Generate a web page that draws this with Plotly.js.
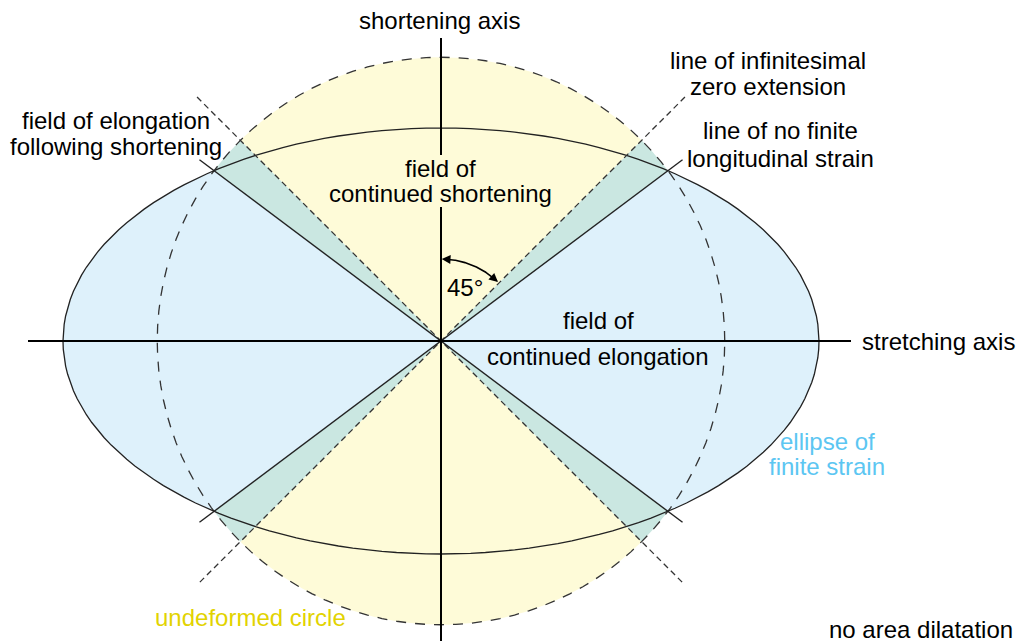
<!DOCTYPE html>
<html>
<head>
<meta charset="utf-8">
<script src="https://cdn.plot.ly/plotly-3.0.1.min.js"></script>
<style>html,body{margin:0;padding:0;background:#fff;}#chart{width:1016px;height:644px;}</style>
</head>
<body>
<div id="chart"></div>
<script>
// ---- data: strain ellipse geometry (pixel-like units) ----
const ellipseSemiAxes = [378, 213];          // [stretching semi-axis, shortening semi-axis]
const zeroExtensionAngles = [45, 135, 225, 315]; // lines of infinitesimal zero extension (deg)
const arcAngleRange = [88, 47];              // 45° marker arc (deg)
const arcRadius = 82;

const a = ellipseSemiAxes[0], b = ellipseSemiAxes[1];
const r = Math.sqrt(a * b);                  // undeformed circle, no area dilatation
const phi = Math.atan(Math.sqrt(b / a)) * 180 / Math.PI; // no finite longitudinal strain
const tEll = Math.acos(Math.sqrt(b / (a + b))) * 180 / Math.PI; // ellipse param at intersection
const rad = d => d * Math.PI / 180;

function circleArc(d0, d1, rr) {
  const xs = [], ys = []; const n = 120;
  for (let i = 0; i <= n; i++) { const d = d0 + (d1 - d0) * i / n; xs.push(rr * Math.cos(rad(d))); ys.push(rr * Math.sin(rad(d))); }
  return [xs, ys];
}
function ellArc(t0, t1) {
  const xs = [], ys = []; const n = 160;
  for (let i = 0; i <= n; i++) { const t = t0 + (t1 - t0) * i / n; xs.push(a * Math.cos(rad(t))); ys.push(b * Math.sin(rad(t))); }
  return [xs, ys];
}
function sector(arc, color) {
  return { x: [0, ...arc[0], 0], y: [0, ...arc[1], 0], mode: 'lines', fill: 'toself', fillcolor: color, line: { width: 0 }, hoverinfo: 'skip' };
}

const YEL = '#fefbd8', BLU = '#def1fb', TEAL = '#cae7e1';
const traces = [];
// yellow: field of continued shortening
traces.push(sector(circleArc(zeroExtensionAngles[0], zeroExtensionAngles[1], r), YEL));
traces.push(sector(circleArc(zeroExtensionAngles[2], zeroExtensionAngles[3], r), YEL));
// teal: field of elongation following shortening
[[phi, 45], [135, 180 - phi], [180 + phi, 225], [315, 360 - phi]].forEach(p => traces.push(sector(circleArc(p[0], p[1], r), TEAL)));
// blue: field of continued elongation
traces.push(sector(ellArc(-tEll, tEll), BLU));
traces.push(sector(ellArc(180 - tEll, 180 + tEll), BLU));

// circle outline (dashed)
const c = circleArc(0, 360, r);
traces.push({ x: c[0], y: c[1], mode: 'lines', line: { color: '#333', width: 1.3, dash: '10px,9px' }, hoverinfo: 'skip' });
// ellipse outline
const e = ellArc(0, 360);
traces.push({ x: e[0], y: e[1], mode: 'lines', line: { color: '#222', width: 1.3 }, hoverinfo: 'skip' });
// zero-extension dashed lines
const L45 = 345;
[[zeroExtensionAngles[0], zeroExtensionAngles[2]], [zeroExtensionAngles[1], zeroExtensionAngles[3]]].forEach(p => traces.push({
  x: [L45 * Math.cos(rad(p[0])), L45 * Math.cos(rad(p[1]))],
  y: [L45 * Math.sin(rad(p[0])), L45 * Math.sin(rad(p[1]))],
  mode: 'lines', line: { color: '#333', width: 1.3, dash: '6px,4px' }, hoverinfo: 'skip' }));
// no finite strain solid lines
const Ls = 302;
[[phi, 180 + phi], [180 - phi, 360 - phi]].forEach(p => traces.push({
  x: [Ls * Math.cos(rad(p[0])), Ls * Math.cos(rad(p[1]))],
  y: [Ls * Math.sin(rad(p[0])), Ls * Math.sin(rad(p[1]))],
  mode: 'lines', line: { color: '#222', width: 1.4 }, hoverinfo: 'skip' }));
// axes (shortening axis interrupted behind its label)
traces.push({ x: [-413, 410], y: [0, 0], mode: 'lines', line: { color: '#000', width: 2 }, hoverinfo: 'skip' });
traces.push({ x: [0, 0, null, 0, 0], y: [303, 186, null, 134, -300], mode: 'lines', line: { color: '#000', width: 2 }, connectgaps: false, hoverinfo: 'skip' });
// 45° arc
const arc = circleArc(arcAngleRange[0], arcAngleRange[1], arcRadius);
traces.push({ x: arc[0], y: arc[1], mode: 'lines', line: { color: '#000', width: 1.6 }, hoverinfo: 'skip' });

const F = 'Liberation Sans, Arial, sans-serif';
const FS = 24;
function lab(text, x, y, opts) {
  return Object.assign({ text: text, x: x, y: y, xref: 'x', yref: 'y', showarrow: false,
    font: { family: F, size: FS, color: '#000' }, xanchor: 'center', yanchor: 'middle' }, opts || {});
}
const annotations = [
  lab('shortening axis', -2, 321),
  lab('line of infinitesimal', 327, 281),
  lab('zero extension', 327, 255),
  lab('line of no finite', 339, 211),
  lab('longitudinal strain', 339, 183),
  lab('field of elongation', -325, 221),
  lab('following shortening', -325, 195),
  lab('field of', -1, 173),
  lab('continued shortening', -1, 148),
  lab('45°', 24, 54),
  lab('field of', 157, 21),
  lab('continued elongation', 157, -15),
  lab('stretching axis', 419, 0, { xanchor: 'left' }),
  lab('ellipse of', 386, -100, { font: { family: F, size: FS, color: '#5cc6f2' } }),
  lab('finite strain', 386, -125, { font: { family: F, size: FS, color: '#5cc6f2' } }),
  lab('undeformed circle', -191, -276, { font: { family: F, size: FS, color: '#e2d300' } }),
  lab('no area dilatation', 480, -288),
];
// arrowheads on 45° arc
function head(dTip, dTail) {
  return { x: arcRadius * Math.cos(rad(dTip)), y: arcRadius * Math.sin(rad(dTip)),
    ax: arcRadius * Math.cos(rad(dTail)), ay: arcRadius * Math.sin(rad(dTail)),
    xref: 'x', yref: 'y', axref: 'x', ayref: 'y', text: '', showarrow: true,
    arrowhead: 2, arrowsize: 1.1, arrowwidth: 1.6, arrowcolor: '#000', standoff: 0, startstandoff: 0 };
}
annotations.push(head(89.5, 84));
annotations.push(head(46, 51.5));

const layout = {
  width: 1016, height: 644, margin: { l: 0, r: 0, t: 0, b: 0 },
  paper_bgcolor: '#fff', plot_bgcolor: '#fff', showlegend: false,
  xaxis: { range: [-441, 575], visible: false, fixedrange: true },
  yaxis: { range: [-303, 341], visible: false, fixedrange: true },
  annotations: annotations
};
Plotly.newPlot('chart', traces, layout, { staticPlot: true });
</script>
</body>
</html>
